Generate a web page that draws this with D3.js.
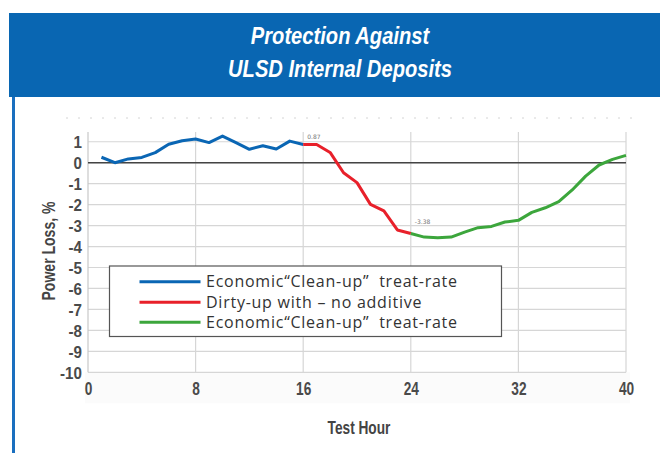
<!DOCTYPE html>
<html>
<head>
<meta charset="utf-8">
<script src="https://cdn.jsdelivr.net/npm/d3@7"></script>
<style>
  body { margin: 0; background: #fff; }
  svg { display: block; }
</style>
</head>
<body>
<div id="chart"></div>
<script>
// data
var cleanHours = [1, 2, 3, 4, 5, 6, 7, 8, 9, 10, 11, 12, 13, 14, 15, 16];
var cleanLoss = [0.26, 0.0, 0.18, 0.25, 0.48, 0.88, 1.05, 1.13, 0.96, 1.27, 0.96, 0.64, 0.81, 0.65, 1.03, 0.87];
var dirtyHours = [16, 17, 18, 19, 20, 21, 22, 23, 24];
var dirtyLoss = [0.87, 0.87, 0.49, -0.48, -0.95, -1.99, -2.3, -3.21, -3.38];
var cleanupHours = [24, 25, 26, 27, 28, 29, 30, 31, 32, 33, 34, 35, 36, 37, 38, 39, 40];
var cleanupLoss = [-3.38, -3.55, -3.58, -3.55, -3.31, -3.1, -3.04, -2.83, -2.75, -2.37, -2.15, -1.86, -1.3, -0.64, -0.11, 0.16, 0.35];
var xTicks = [0, 8, 16, 24, 32, 40];
var yTicks = [1, 0, -1, -2, -3, -4, -5, -6, -7, -8, -9, -10];
var seriesNames = ["Economic\u201CClean-up\u201D  treat-rate", "Dirty-up with \u2013 no additive", "Economic\u201CClean-up\u201D  treat-rate"];
var seriesColors = ["#0a66b4", "#e8202a", "#3ca63c"];

var width = 660, height = 453;
var boldFont = "'Liberation Sans', Arial, sans-serif";

var svg = d3.select("#chart").append("svg")
    .attr("width", width)
    .attr("height", height);

// squeezed bold text, to get close to the condensed face of the original
function narrowText(parent, x, y, str, size, sx, opts) {
  opts = opts || {};
  var g = parent.append("g")
      .attr("transform", "translate(" + x + "," + y + ")" + (opts.rotate ? " rotate(" + opts.rotate + ")" : ""));
  return g.append("text")
      .attr("transform", "scale(" + sx + ",1)")
      .attr("text-anchor", opts.anchor || "middle")
      .attr("fill", opts.fill || "#444")
      .style("font-family", boldFont)
      .style("font-weight", "bold")
      .style("font-style", opts.italic ? "italic" : "normal")
      .style("font-size", size + "px")
      .text(str);
}

// header band
svg.append("rect")
    .attr("x", 9).attr("y", 13)
    .attr("width", width - 9).attr("height", 84)
    .attr("fill", "#0966b2");

narrowText(svg, 340, 43.5, "Protection Against", 24, 0.84, {fill: "#fff", italic: true});
narrowText(svg, 340, 77, "ULSD Internal Deposits", 24, 0.84, {fill: "#fff", italic: true});

// left blue rule
svg.append("rect")
    .attr("x", 12).attr("y", 97)
    .attr("width", 3).attr("height", height - 97)
    .attr("fill", "#1a6fbf");

// faint clipped line near the top
svg.append("line")
    .attr("x1", 66).attr("x2", 642)
    .attr("y1", 118).attr("y2", 118)
    .attr("stroke", "#d4d4d4")
    .attr("stroke-dasharray", "2,10");

var x = d3.scaleLinear().domain([0, 40]).range([88, 626]);
var y = d3.scaleLinear().domain([-10, 0]).range([372.3, 162.7]);
var plotTop = y(1.46);

// faint band behind the hour labels
svg.append("rect")
    .attr("x", 85).attr("y", y(-10))
    .attr("width", 545).attr("height", 31)
    .attr("fill", "#fbfbfb");

// grid
svg.append("g")
    .selectAll("line")
    .data(yTicks)
    .enter().append("line")
      .attr("x1", x(0)).attr("x2", x(40))
      .attr("y1", function(d) { return y(d); })
      .attr("y2", function(d) { return y(d); })
      .attr("stroke", "#d6d6d6")
      .attr("stroke-width", 1.2);

svg.append("g")
    .selectAll("line")
    .data(xTicks.slice(1))
    .enter().append("line")
      .attr("x1", function(d) { return x(d); })
      .attr("x2", function(d) { return x(d); })
      .attr("y1", plotTop).attr("y2", y(-10))
      .attr("stroke", "#d6d6d6")
      .attr("stroke-width", 1.2);

// y axis line
svg.append("line")
    .attr("x1", x(0)).attr("x2", x(0))
    .attr("y1", plotTop).attr("y2", y(-10))
    .attr("stroke", "#c8c8c8")
    .attr("stroke-width", 1.2);

// zero line
svg.append("line")
    .attr("x1", x(0)).attr("x2", x(40))
    .attr("y1", y(0)).attr("y2", y(0))
    .attr("stroke", "#444")
    .attr("stroke-width", 1.6);

// tick labels via d3 axes
var yAxis = svg.append("g")
    .attr("transform", "translate(" + (x(0) - 6) + ",0)")
    .call(d3.axisLeft(y).tickValues(yTicks).tickSize(0).tickPadding(0).tickFormat(d3.format("d")));
yAxis.select(".domain").remove();
yAxis.selectAll("text")
    .attr("fill", "#4a4a4a")
    .attr("dy", "0.36em")
    .attr("transform", "scale(0.92,1)")
    .style("font-family", boldFont)
    .style("font-weight", "bold")
    .style("font-size", "16.5px")
    .text(function(d) { return String(d); });

var xAxis = svg.append("g")
    .attr("transform", "translate(0," + y(-10) + ")")
    .call(d3.axisBottom(x).tickValues(xTicks).tickSize(0).tickPadding(10).tickFormat(d3.format("d")));
xAxis.select(".domain").remove();
xAxis.selectAll("text")
    .attr("fill", "#4a4a4a")
    .attr("transform", "scale(0.76,1)")
    .style("font-family", boldFont)
    .style("font-weight", "bold")
    .style("font-size", "18px");

narrowText(svg, 359, 434, "Test Hour", 18.5, 0.74);
narrowText(svg, 55, 251, "Power Loss, %", 18, 0.78, {rotate: -90});

// lines
var line = d3.line()
    .x(function(d) { return x(d[0]); })
    .y(function(d) { return y(d[1]); });

var series = [
  d3.zip(cleanHours, cleanLoss),
  d3.zip(dirtyHours, dirtyLoss),
  d3.zip(cleanupHours, cleanupLoss)
];

svg.append("g")
    .selectAll("path")
    .data(series)
    .enter().append("path")
      .attr("d", line)
      .attr("fill", "none")
      .attr("stroke", function(d, i) { return seriesColors[i]; })
      .attr("stroke-width", 3)
      .attr("stroke-linejoin", "round");

// point labels
svg.append("text")
    .attr("x", x(16) + 4).attr("y", y(dirtyLoss[0]) - 5)
    .attr("fill", "#777")
    .style("font-family", "'DejaVu Sans', sans-serif")
    .style("font-size", "6px")
    .text(dirtyLoss[0].toFixed(2));

svg.append("text")
    .attr("x", x(24) + 4).attr("y", y(cleanupLoss[0]) - 10)
    .attr("fill", "#777")
    .style("font-family", "'DejaVu Sans', sans-serif")
    .style("font-size", "6px")
    .text(cleanupLoss[0].toFixed(2));

// legend
var legend = svg.append("g").attr("transform", "translate(109.5,266)");
legend.append("rect")
    .attr("width", 392).attr("height", 70.5)
    .attr("fill", "#fff")
    .attr("stroke", "#555")
    .attr("stroke-width", 1.2);

var item = legend.selectAll(".item")
    .data(seriesNames)
    .enter().append("g")
      .attr("transform", function(d, i) { return "translate(0," + [15.7, 36.3, 56.3][i] + ")"; });

item.append("line")
    .attr("x1", 30).attr("x2", 91)
    .attr("stroke", function(d, i) { return seriesColors[i]; })
    .attr("stroke-width", 3);

item.append("text")
    .attr("x", 96.5).attr("dy", "0.36em")
    .attr("fill", "#333")
    .style("font-family", "'Open Sans', sans-serif")
    .style("font-size", "16px")
    .style("letter-spacing", "0.75px")
    .style("white-space", "pre")
    .text(function(d) { return d; });
</script>
</body>
</html>
